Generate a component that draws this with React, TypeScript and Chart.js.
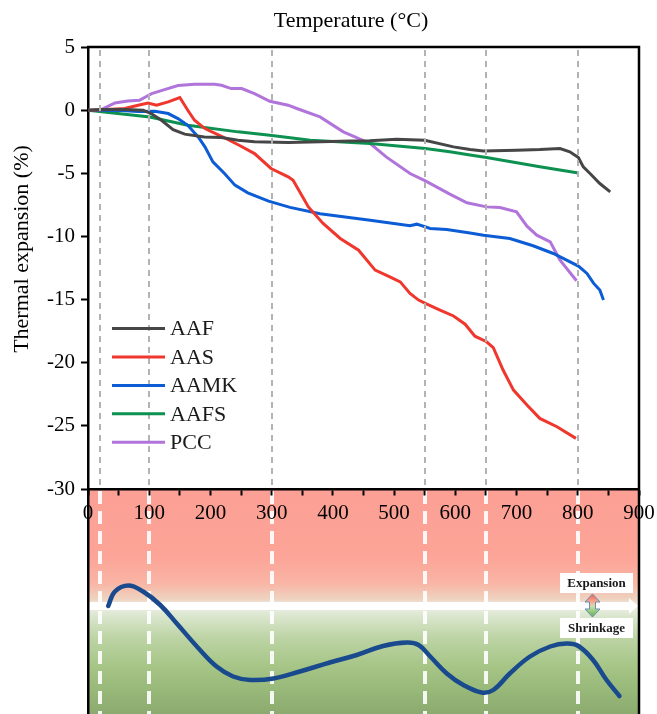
import React, { useEffect, useRef } from "react";
import { Chart, registerables } from "chart.js";

Chart.register(...registerables);

const SERIF = '"Liberation Serif", "Times New Roman", Times, serif';

// Thermal expansion (%) against temperature (°C) for each mix
const aafTemp = [0, 20, 60, 90, 103, 120, 139, 158, 190, 218, 245, 272, 327, 380, 430, 460, 504, 550, 597, 624, 646, 700, 738, 771, 787, 801, 809, 820, 836, 853];
const aafExp = [0, 0.05, 0.05, 0, -0.27, -0.8, -1.54, -1.9, -2.12, -2.17, -2.38, -2.51, -2.57, -2.51, -2.45, -2.43, -2.3, -2.38, -2.91, -3.12, -3.23, -3.17, -3.12, -3.04, -3.3, -3.75, -4.49, -5.02, -5.81, -6.47];

const aasTemp = [0, 30, 60, 82, 98, 112, 131, 150, 163, 174, 191, 218, 250, 272, 299, 327, 335, 360, 384, 412, 442, 469, 493, 510, 526, 540, 551, 575, 597, 616, 632, 651, 662, 678, 695, 717, 738, 766, 797];
const aasExp = [0, 0.05, 0.13, 0.39, 0.57, 0.39, 0.65, 1.0, -0.01, -0.8, -1.46, -2.07, -2.86, -3.44, -4.62, -5.28, -5.55, -7.66, -8.97, -10.16, -11.09, -12.67, -13.2, -13.6, -14.51, -15.04, -15.3, -15.83, -16.3, -16.95, -17.9, -18.34, -18.8, -20.58, -22.17, -23.35, -24.41, -25.07, -25.99];

const aamkTemp = [0, 20, 54, 82, 109, 131, 147, 163, 180, 191, 204, 223, 240, 261, 295, 330, 379, 461, 526, 537, 559, 586, 624, 646, 689, 727, 760, 801, 815, 826, 836, 842];
const aamkExp = [0, 0, -0.03, -0.1, -0.09, -0.27, -0.67, -1.2, -2.12, -2.91, -4.1, -5.02, -5.94, -6.55, -7.2, -7.7, -8.2, -8.71, -9.16, -9.03, -9.37, -9.45, -9.72, -9.9, -10.16, -10.74, -11.35, -12.35, -12.93, -13.72, -14.25, -15.04];

const aafsTemp = [0, 101, 163, 245, 297, 327, 363, 461, 551, 591, 624, 651, 738, 801];
const aafsExp = [0, -0.54, -1.2, -1.72, -1.99, -2.17, -2.38, -2.64, -3.04, -3.3, -3.55, -3.75, -4.49, -4.97];

const pccTemp = [20, 44, 65, 84, 104, 125, 147, 174, 207, 218, 234, 251, 272, 297, 327, 341, 379, 417, 461, 487, 526, 551, 591, 619, 651, 673, 700, 717, 733, 755, 771, 798];
const pccExp = [0, 0.57, 0.73, 0.78, 1.31, 1.63, 1.95, 2.05, 2.05, 1.97, 1.71, 1.71, 1.31, 0.7, 0.39, 0.13, -0.54, -1.72, -2.64, -3.7, -5.02, -5.6, -6.65, -7.34, -7.66, -7.71, -8.05, -9.19, -9.9, -10.43, -11.88, -13.51];

const seriesLabels = ["AAF", "AAS", "AAMK", "AAFS", "PCC"];
const seriesColors = ["#464646", "#f0372d", "#0b5cd5", "#0c9150", "#b074db"];

// Stage boundaries (°C)
const stageTemps = [20, 100, 300, 550, 650, 800];

// Qualitative expansion (+) / shrinkage (−) trend drawn in the lower band
const trendTemp = [33, 44, 66, 90, 118, 145, 183, 210, 237, 265, 303, 346, 395, 439, 482, 521, 540, 559, 586, 613, 643, 662, 689, 722, 755, 782, 801, 825, 847, 868];
const trendLevel = [0, 0.29, 0.41, 0.29, 0.02, -0.35, -0.88, -1.21, -1.41, -1.48, -1.45, -1.31, -1.13, -0.98, -0.8, -0.73, -0.78, -1.01, -1.35, -1.58, -1.73, -1.68, -1.35, -1.01, -0.81, -0.75, -0.8, -1.08, -1.48, -1.8];

// Axis ranges and tick spacing
const tempRange = [0, 900];
const tempStep = 50;
const tempLabelEvery = 100;
const expRange = [-30, 5];
const expStep = 2.5;
const expLabelEvery = 5;
const trendRange = [-2.16, 2.34];

const zip = (xs: number[], ys: number[]) => xs.map((x, i) => ({ x, y: ys[i] }));

const seriesData = [
  zip(aafTemp, aafExp),
  zip(aasTemp, aasExp),
  zip(aamkTemp, aamkExp),
  zip(aafsTemp, aafsExp),
  zip(pccTemp, pccExp),
];

const stripPadding = (s: any) => {
  s.paddingTop = 0;
  s.paddingBottom = 0;
  s.paddingLeft = 0;
  s.paddingRight = 0;
};

// Gradient band, white stage lines and the zero arrow under the main plot
const lowerPanelPlugin = {
  id: "lowerPanel",
  beforeDraw(chart: any) {
    const { ctx, chartArea } = chart;
    const x = chart.scales.x;
    const yTop = chart.scales.yTop;
    const yBot = chart.scales.yBot;
    const top = yTop.getPixelForValue(expRange[0]);
    const bottom = chartArea.bottom;
    const left = chartArea.left;
    const right = chartArea.right;
    ctx.save();
    const g = ctx.createLinearGradient(0, top, 0, bottom);
    g.addColorStop(0, "#fc9f94");
    g.addColorStop(0.3, "#fca497");
    g.addColorStop(0.42, "#f9b5a5");
    g.addColorStop(0.49, "#eed3c0");
    g.addColorStop(0.52, "#eef0e8");
    g.addColorStop(0.56, "#dce7d0");
    g.addColorStop(0.66, "#bdd4a5");
    g.addColorStop(0.78, "#a7c688");
    g.addColorStop(0.89, "#98b97a");
    g.addColorStop(1, "#8caa6f");
    ctx.fillStyle = g;
    ctx.fillRect(left, top, right - left, bottom - top);

    ctx.strokeStyle = "rgba(255,255,255,0.9)";
    ctx.lineWidth = 4;
    ctx.setLineDash([13, 7]);
    for (const t of stageTemps) {
      const px = Math.round(x.getPixelForValue(t));
      ctx.beginPath();
      ctx.moveTo(px, top + 2);
      ctx.lineTo(px, bottom);
      ctx.stroke();
    }
    ctx.setLineDash([]);

    const cy = yBot.getPixelForValue(0);
    ctx.fillStyle = "#ffffff";
    ctx.fillRect(left, cy - 4, right - left - 9, 8);
    ctx.beginPath();
    ctx.moveTo(right - 10, cy - 8);
    ctx.lineTo(right - 1, cy);
    ctx.lineTo(right - 10, cy + 8);
    ctx.closePath();
    ctx.fill();
    ctx.restore();
  },
};

// Stage lines, legend and the expansion/shrinkage key
const overlayPlugin = {
  id: "overlay",
  afterDatasetsDraw(chart: any) {
    const { ctx, chartArea } = chart;
    const x = chart.scales.x;
    const yTop = chart.scales.yTop;
    const yBot = chart.scales.yBot;
    const top = chartArea.top;
    const axisY = yTop.getPixelForValue(expRange[0]);
    ctx.save();

    ctx.strokeStyle = "#b3b3b3";
    ctx.lineWidth = 2;
    ctx.setLineDash([6, 5]);
    for (const t of stageTemps) {
      const px = Math.round(x.getPixelForValue(t));
      ctx.beginPath();
      ctx.moveTo(px, top + 3);
      ctx.lineTo(px, axisY - 2);
      ctx.stroke();
    }
    ctx.setLineDash([]);

    // legend
    const lx = chartArea.left + 24;
    let ly = yTop.getPixelForValue(-17.3);
    ctx.font = `22px ${SERIF}`;
    ctx.textBaseline = "middle";
    ctx.textAlign = "left";
    chart.data.datasets.forEach((ds: any) => {
      if (ds.yAxisID !== "yTop") return;
      ctx.strokeStyle = ds.borderColor;
      ctx.lineWidth = 3;
      ctx.beginPath();
      ctx.moveTo(lx, ly);
      ctx.lineTo(lx + 53, ly);
      ctx.stroke();
      ctx.fillStyle = "#1a1a1a";
      ctx.fillText(ds.label, lx + 58, ly + 1);
      ly += 28.4;
    });

    // expansion / shrinkage key
    const cy = yBot.getPixelForValue(0);
    const bx = chartArea.right - 79;
    const bw = 73;
    ctx.fillStyle = "#ffffff";
    ctx.fillRect(bx, cy - 33, bw, 20);
    ctx.fillRect(bx, cy + 12, bw, 20);
    ctx.fillStyle = "#1a1a1a";
    ctx.font = `bold 13px ${SERIF}`;
    ctx.textAlign = "center";
    ctx.fillText("Expansion", bx + bw / 2, cy - 22.5);
    ctx.fillText("Shrinkage", bx + bw / 2, cy + 22.5);

    const ax = bx + 32.5;
    const at = cy - 12;
    const ab = cy + 11;
    const hw = 7.5;
    const sw = 3;
    const hh = 8;
    const ag = ctx.createLinearGradient(0, at, 0, ab);
    ag.addColorStop(0, "#f26050");
    ag.addColorStop(0.45, "#f4c0a8");
    ag.addColorStop(0.55, "#c2e0a8");
    ag.addColorStop(1, "#62b04c");
    ctx.beginPath();
    ctx.moveTo(ax, at);
    ctx.lineTo(ax + hw, at + hh);
    ctx.lineTo(ax + sw, at + hh);
    ctx.lineTo(ax + sw, ab - hh);
    ctx.lineTo(ax + hw, ab - hh);
    ctx.lineTo(ax, ab);
    ctx.lineTo(ax - hw, ab - hh);
    ctx.lineTo(ax - sw, ab - hh);
    ctx.lineTo(ax - sw, at + hh);
    ctx.lineTo(ax - hw, at + hh);
    ctx.closePath();
    ctx.fillStyle = ag;
    ctx.fill();
    ctx.strokeStyle = "#6d8db3";
    ctx.lineWidth = 1;
    ctx.stroke();
    ctx.restore();
  },
  afterDraw(chart: any) {
    const { ctx, chartArea } = chart;
    ctx.save();
    ctx.strokeStyle = "#000";
    ctx.lineWidth = 2.5;
    ctx.beginPath();
    ctx.moveTo(chartArea.left - 1, chartArea.top);
    ctx.lineTo(chartArea.right, chartArea.top);
    ctx.lineTo(chartArea.right, chartArea.bottom);
    ctx.stroke();

    ctx.fillStyle = "#000";
    ctx.font = `22px ${SERIF}`;
    ctx.textAlign = "center";
    ctx.textBaseline = "alphabetic";
    ctx.fillText("Temperature (°C)", 351, 27);

    ctx.translate(28, 249);
    ctx.rotate(-Math.PI / 2);
    ctx.fillText("Thermal expansion (%)", 0, 0);
    ctx.restore();
  },
};

export default function App() {
  const canvasRef = useRef<HTMLCanvasElement | null>(null);

  useEffect(() => {
    const canvas = canvasRef.current;
    if (!canvas) return;

    const datasets: any[] = seriesData.map((data, i) => ({
      label: seriesLabels[i],
      data,
      yAxisID: "yTop",
      borderColor: seriesColors[i],
      backgroundColor: seriesColors[i],
      borderWidth: 3,
      pointRadius: 0,
      tension: 0,
      fill: false,
    }));
    datasets.push({
      label: "trend",
      data: zip(trendTemp, trendLevel),
      yAxisID: "yBot",
      borderColor: "#1a4a8e",
      backgroundColor: "#1a4a8e",
      borderWidth: 4.5,
      pointRadius: 0,
      tension: 0.4,
      fill: false,
      borderCapStyle: "round",
    });

    const tickFont = { family: SERIF, size: 21 };

    const chart = new Chart(canvas, {
      type: "line",
      data: { datasets },
      plugins: [lowerPanelPlugin, overlayPlugin],
      options: {
        responsive: false,
        animation: false,
        devicePixelRatio: 1,
        layout: { padding: { top: 47, right: 18, bottom: 0, left: 0 } },
        plugins: {
          legend: { display: false },
          tooltip: { enabled: false },
          title: { display: false },
        },
        scales: {
          x: {
            type: "linear",
            min: tempRange[0],
            max: tempRange[1],
            position: { yTop: expRange[0] } as any,
            ticks: {
              stepSize: tempStep,
              autoSkip: false,
              maxRotation: 0,
              padding: 7,
              color: "#000",
              font: tickFont,
              callback: (v: any) => (Number(v) % tempLabelEvery === 0 ? String(v) : ""),
            },
            grid: {
              drawOnChartArea: false,
              drawTicks: true,
              tickLength: 5,
              tickWidth: 2,
              tickColor: "#000",
            },
            border: { display: true, color: "#000", width: 2.5 },
            afterFit: stripPadding,
          },
          yTop: {
            type: "linear",
            position: "left",
            stack: "panels",
            stackWeight: 442,
            weight: 2,
            min: expRange[0],
            max: expRange[1],
            ticks: {
              stepSize: expStep,
              padding: 6,
              color: "#000",
              font: tickFont,
              callback: (v: any) => (Number(v) % expLabelEvery === 0 ? String(v) : ""),
            },
            grid: {
              drawOnChartArea: false,
              drawTicks: true,
              tickLength: 7,
              tickWidth: 2,
              tickColor: "#000",
            },
            border: { display: true, color: "#000", width: 2.5 },
            afterFit: (s: any) => {
              s.width = 88;
              stripPadding(s);
            },
          },
          yBot: {
            type: "linear",
            position: "left",
            stack: "panels",
            stackWeight: 225,
            weight: 1,
            min: trendRange[0],
            max: trendRange[1],
            ticks: { display: false },
            grid: { display: false, drawTicks: false },
            border: { display: true, color: "#000", width: 2.5 },
            afterFit: (s: any) => {
              s.width = 88;
              stripPadding(s);
            },
          },
        } as any,
      },
    });

    return () => chart.destroy();
  }, []);

  return (
    <div style={{ position: "absolute", left: 0, top: 0, width: 657, height: 714, background: "#fff" }}>
      <canvas ref={canvasRef} width={657} height={714} style={{ display: "block", width: 657, height: 714 }} />
    </div>
  );
}
